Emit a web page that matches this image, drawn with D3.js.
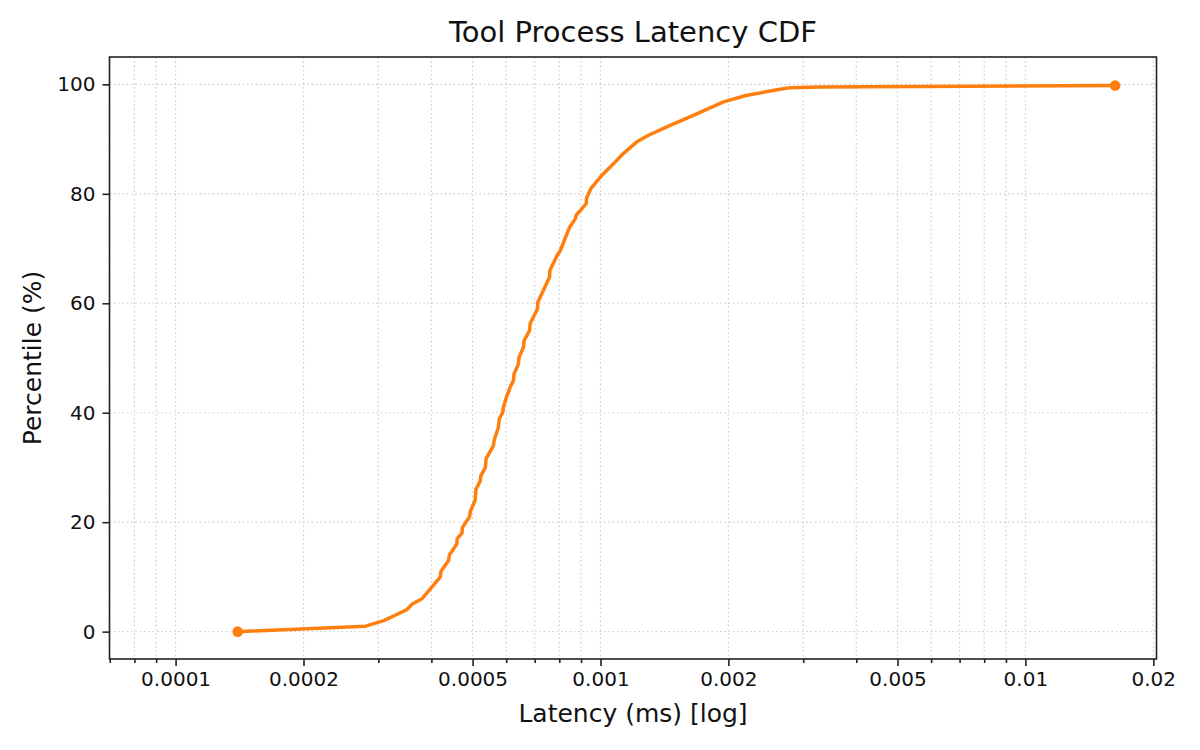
<!DOCTYPE html>
<html>
<head>
<meta charset="utf-8">
<script src="https://cdn.jsdelivr.net/npm/d3@7"></script>
<style>
  body { margin: 0; background: #fff; }
  svg { display: block; font-family: 'DejaVu Sans', sans-serif; }
  .grid line { stroke: #cfcfcf; stroke-width: 1.2; stroke-dasharray: 1.6,2.7; }
  .axis path, .axis line { stroke: #222; }
  .axis text { fill: #111; font-size: 20px; font-family: 'DejaVu Sans', sans-serif; }
</style>
</head>
<body>
<svg id="chart" width="1200" height="750"></svg>
<script>
// latency in ms, cumulative percentile
const latency = [
  1.40e-4, 2.80e-4, 3.09e-4, 3.50e-4, 3.60e-4, 3.80e-4, 4.20e-4, 4.21e-4,
  4.39e-4, 4.41e-4, 4.59e-4, 4.60e-4, 4.72e-4, 4.73e-4, 4.92e-4, 4.94e-4,
  5.07e-4, 5.09e-4, 5.21e-4, 5.23e-4, 5.36e-4, 5.38e-4, 5.60e-4, 5.62e-4,
  5.75e-4, 5.78e-4, 5.89e-4, 5.91e-4, 6.02e-4, 6.07e-4, 6.13e-4, 6.24e-4,
  6.26e-4, 6.41e-4, 6.43e-4, 6.59e-4, 6.61e-4, 6.81e-4, 6.83e-4, 7.11e-4,
  7.12e-4, 7.59e-4, 7.60e-4, 7.90e-4, 8.04e-4, 8.46e-4, 8.72e-4, 8.77e-4,
  9.26e-4, 9.27e-4, 9.50e-4, 1.008e-3, 1.073e-3, 1.133e-3, 1.218e-3, 1.297e-3,
  1.459e-3, 1.685e-3, 1.947e-3, 2.211e-3, 2.601e-3, 2.795e-3, 3.29e-3, 1.626e-2
]
const percentile = [
  0, 1, 2, 4, 5, 6, 10, 11,
  13, 14, 16, 17, 18, 19, 21, 22,
  24, 26, 27.5, 28.5, 30, 31.6, 34, 35,
  37.3, 38.9, 40.1, 41, 43.1, 43.7, 44.7, 45.9,
  47.1, 48.9, 50.1, 52, 53.2, 55, 56.3, 59,
  60.2, 64.8, 66, 68.7, 69.6, 73.9, 75.4, 76.1,
  78.2, 79.2, 81, 83.4, 85.5, 87.4, 89.5, 90.7,
  92.5, 94.6, 96.8, 98, 99, 99.4, 99.5, 99.8
]

const xTickValues = [1e-4, 2e-4, 5e-4, 1e-3, 2e-3, 5e-3, 1e-2, 2e-2]
const xTickLabels = ['0.0001', '0.0002', '0.0005', '0.001', '0.002', '0.005', '0.01', '0.02']
const xMinorTicks = [7e-5, 8e-5, 9e-5, 3e-4, 4e-4, 6e-4, 7e-4, 8e-4, 9e-4,
  3e-3, 4e-3, 6e-3, 7e-3, 8e-3, 9e-3]
const yTickValues = [0, 20, 40, 60, 80, 100]

const margin = { left: 109.5, right: 43.5, top: 57, bottom: 91 }
const width = 1200 - margin.left - margin.right
const height = 750 - margin.top - margin.bottom

const data = latency.map((d, i) => [d, percentile[i]])

const xScale = d3.scaleLog()
  .domain([6.99e-5, 0.02035])
  .range([0, width])
const yScale = d3.scaleLinear()
  .domain([-5, 105])
  .range([height, 0])

const svg = d3.select('#chart')
const g = svg.append('g')
  .attr('transform', `translate(${margin.left},${margin.top})`)

// grid
const allX = xTickValues.concat(xMinorTicks).filter(d => d >= xScale.domain()[0] && d <= xScale.domain()[1])
g.append('g').attr('class', 'grid')
  .selectAll('line.gx').data(allX).join('line')
  .attr('x1', d => xScale(d)).attr('x2', d => xScale(d))
  .attr('y1', 0).attr('y2', height)
g.append('g').attr('class', 'grid')
  .selectAll('line.gy').data(yTickValues).join('line')
  .attr('x1', 0).attr('x2', width)
  .attr('y1', d => yScale(d)).attr('y2', d => yScale(d))

// line
g.append('path')
  .datum(data)
  .attr('fill', 'none')
  .attr('stroke', '#ff7f0e')
  .attr('stroke-width', 3.5)
  .attr('stroke-linejoin', 'round')
  .attr('stroke-linecap', 'round')
  .attr('d', d3.line()
    .x(d => xScale(d[0]))
    .y(d => yScale(d[1])))

// end markers
g.selectAll('circle.end')
  .data([data[0], data[data.length - 1]])
  .join('circle')
  .attr('cx', d => xScale(d[0]))
  .attr('cy', d => yScale(d[1]))
  .attr('r', 5.3)
  .attr('fill', '#ff7f0e')

// axes
const xAxis = d3.axisBottom(xScale)
  .tickValues(xTickValues)
  .tickFormat((d, i) => xTickLabels[i])
  .tickSize(7)
  .tickPadding(6)
const xMinorAxis = d3.axisBottom(xScale)
  .tickValues(xMinorTicks.filter(d => d >= xScale.domain()[0]))
  .tickFormat('')
  .tickSize(4)
const yAxis = d3.axisLeft(yScale)
  .tickValues(yTickValues)
  .tickSize(7)
  .tickPadding(7)

g.append('g').attr('class', 'axis')
  .attr('transform', `translate(0,${height})`)
  .call(xMinorAxis)
  .call(a => a.select('.domain').remove())
g.append('g').attr('class', 'axis')
  .attr('transform', `translate(0,${height})`)
  .call(xAxis)
  .call(a => a.select('.domain').remove())
g.append('g').attr('class', 'axis')
  .call(yAxis)
  .call(a => a.select('.domain').remove())
g.selectAll('.axis line').attr('stroke-width', 1.6)

// frame
g.append('rect')
  .attr('width', width).attr('height', height)
  .attr('fill', 'none').attr('stroke', '#222').attr('stroke-width', 1.6)

// labels
svg.append('text')
  .attr('x', margin.left + width / 2).attr('y', 42)
  .attr('text-anchor', 'middle')
  .attr('font-size', 29).attr('fill', '#111')
  .text('Tool Process Latency CDF')
svg.append('text')
  .attr('x', margin.left + width / 2).attr('y', 722)
  .attr('text-anchor', 'middle')
  .attr('font-size', 25).attr('fill', '#111')
  .text('Latency (ms) [log]')
svg.append('text')
  .attr('transform', `translate(41,${margin.top + height / 2}) rotate(-90)`)
  .attr('text-anchor', 'middle')
  .attr('font-size', 25).attr('fill', '#111')
  .text('Percentile (%)')
</script>
</body>
</html>
